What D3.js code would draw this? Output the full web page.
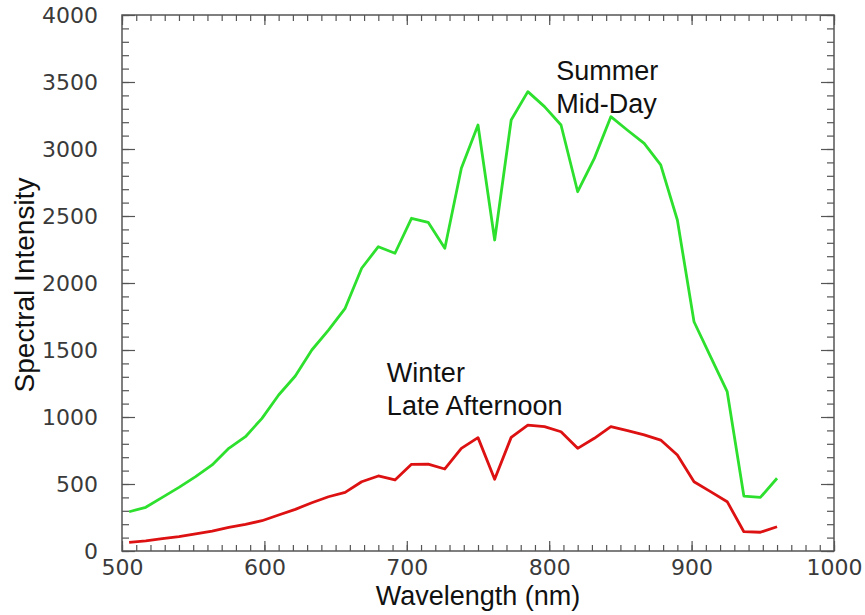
<!DOCTYPE html>
<html>
<head>
<meta charset="utf-8">
<script src="https://cdn.jsdelivr.net/npm/d3@7"></script>
<style>
  body { margin: 0; background: #fff; }
  svg { font-family: 'Liberation Sans', Arial, sans-serif; }
  .axis path.domain { display: none; }
  .axis line { stroke: #555; stroke-width: 1.2; }
  .axis text { fill: #3a3a3a; font-size: 22px; font-family: 'DejaVu Sans', sans-serif; }
  .label { fill: #111; font-size: 27px; }
  .ylabel { font-size: 28px; }
  .note { fill: #111; font-size: 27px; }
</style>
</head>
<body>
<svg width="865" height="615"></svg>
<script>
// wavelengths (nm) sampled by the spectrometer
var wavelengths = [505.0, 516.7, 528.3, 540.0, 551.7, 563.3, 575.0, 586.7, 598.3, 610.0,
  621.7, 633.3, 645.0, 656.7, 668.3, 680.0, 691.7, 703.3, 715.0, 726.7,
  738.3, 750.0, 761.7, 773.3, 785.0, 796.7, 808.3, 820.0, 831.7, 843.3,
  855.0, 866.7, 878.3, 890.0, 901.7, 913.3, 925.0, 936.7, 948.3, 960.0];

var summerMidDay = [293, 326, 400, 475, 555, 642, 766, 853, 990, 1164,
  1306, 1500, 1649, 1811, 2110, 2271, 2222, 2483, 2453, 2259,
  2856, 3179, 2321, 3216, 3428, 3316, 3179, 2681, 2930, 3241,
  3140, 3042, 2881, 2470, 1711, 1450, 1189, 410, 400, 543];

var winterLateAfternoon = [65, 75, 92, 107, 127, 149, 177, 199, 226, 269,
  311, 360, 405, 438, 517, 560, 530, 647, 649, 612,
  766, 846, 535, 848, 940, 928, 890, 766, 841, 928,
  898, 866, 828, 716, 517, 443, 368, 144, 140, 181];

var xMajorTicks = [500, 600, 700, 800, 900, 1000];
var yMajorTicks = [0, 500, 1000, 1500, 2000, 2500, 3000, 3500, 4000];

var seriesNames = ['Summer', 'Winter'];
var seriesColors = ['#2ee02e', '#dd1111'];
var noteLines = [['Summer', 'Mid-Day'], ['Winter', 'Late Afternoon']];
var notePositions = [[805, 3515], [686, 1261]];

var svg = d3.select('svg');

var plot = { left: 122, right: 834, top: 15, bottom: 551 };

var xScale = d3.scaleLinear().domain([500, 1000]).range([plot.left, plot.right]);
var yScale = d3.scaleLinear().domain([0, 4000]).range([plot.bottom, plot.top]);

var xMinor = d3.range(500, 1001, 10);
var yMinor = d3.range(0, 4001, 100);

// minor ticks on all four sides, pointing inward
svg.append('g').attr('class', 'axis')
  .attr('transform', 'translate(0,' + plot.bottom + ')')
  .call(d3.axisBottom(xScale).tickValues(xMinor).tickSize(-6).tickFormat(''));
svg.append('g').attr('class', 'axis')
  .attr('transform', 'translate(0,' + plot.top + ')')
  .call(d3.axisTop(xScale).tickValues(xMinor).tickSize(-6).tickFormat(''));
svg.append('g').attr('class', 'axis')
  .attr('transform', 'translate(' + plot.left + ',0)')
  .call(d3.axisLeft(yScale).tickValues(yMinor).tickSize(-7).tickFormat(''));
svg.append('g').attr('class', 'axis')
  .attr('transform', 'translate(' + plot.right + ',0)')
  .call(d3.axisRight(yScale).tickValues(yMinor).tickSize(-7).tickFormat(''));

// major ticks
svg.append('g').attr('class', 'axis')
  .attr('transform', 'translate(0,' + plot.bottom + ')')
  .call(d3.axisBottom(xScale).tickValues(xMajorTicks).tickSize(-10).tickPadding(8).tickFormat(d3.format('d')));
svg.append('g').attr('class', 'axis')
  .attr('transform', 'translate(0,' + plot.top + ')')
  .call(d3.axisTop(xScale).tickValues(xMajorTicks).tickSize(-10).tickFormat(''));
svg.append('g').attr('class', 'axis')
  .attr('transform', 'translate(' + plot.left + ',0)')
  .call(d3.axisLeft(yScale).tickValues(yMajorTicks).tickSize(-13).tickPadding(24).tickFormat(d3.format('d')));
svg.append('g').attr('class', 'axis')
  .attr('transform', 'translate(' + plot.right + ',0)')
  .call(d3.axisRight(yScale).tickValues(yMajorTicks).tickSize(-13).tickFormat(''));

svg.append('rect')
  .attr('x', plot.left)
  .attr('y', plot.top)
  .attr('width', plot.right - plot.left)
  .attr('height', plot.bottom - plot.top)
  .attr('fill', 'none')
  .attr('stroke', '#555')
  .attr('stroke-width', 1.5);

var line = d3.line()
  .x((d) => xScale(d[0]))
  .y((d) => yScale(d[1]));

[summerMidDay, winterLateAfternoon].forEach(function(values, i) {
  svg.append('path')
    .datum(wavelengths.map((w, j) => [w, values[j]]))
    .attr('class', 'series ' + seriesNames[i])
    .attr('fill', 'none')
    .attr('stroke', seriesColors[i])
    .attr('stroke-width', 2.8)
    .attr('stroke-linejoin', 'round')
    .attr('d', line);
});

noteLines.forEach(function(lines, i) {
  var t = svg.append('text')
    .attr('class', 'note')
    .attr('x', xScale(notePositions[i][0]))
    .attr('y', yScale(notePositions[i][1]));
  lines.forEach(function(s, k) {
    t.append('tspan')
      .attr('x', xScale(notePositions[i][0]))
      .attr('dy', k === 0 ? 0 : 33)
      .text(s);
  });
});

svg.append('text')
  .attr('class', 'label')
  .attr('text-anchor', 'middle')
  .attr('x', (plot.left + plot.right) / 2)
  .attr('y', 605)
  .text('Wavelength (nm)');

svg.append('text')
  .attr('class', 'label ylabel')
  .attr('text-anchor', 'middle')
  .attr('transform', 'translate(34,' + ((plot.top + plot.bottom) / 2 + 2) + ') rotate(-90)')
  .text('Spectral Intensity');
</script>
</body>
</html>
